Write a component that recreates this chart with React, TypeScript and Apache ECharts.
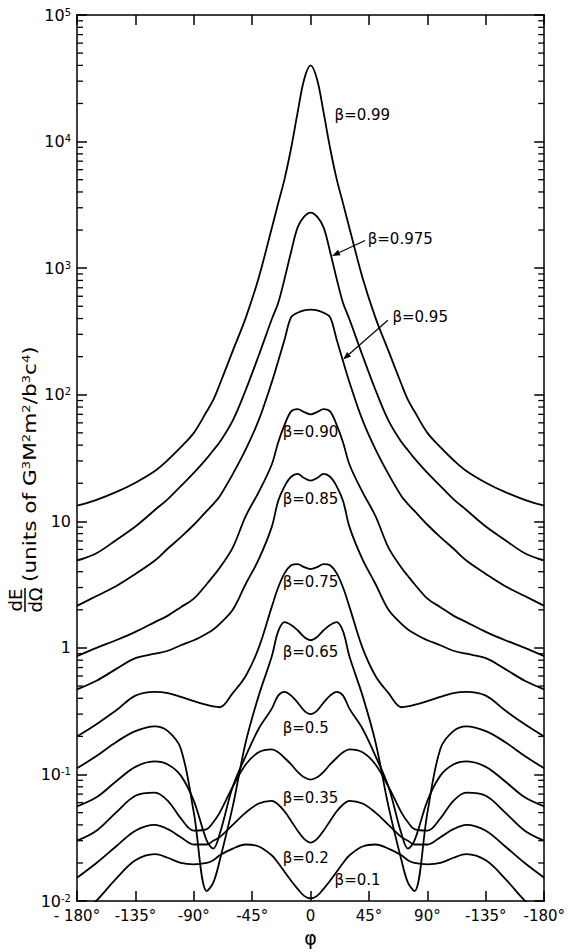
import { useEffect, useRef } from 'react';
import * as echarts from 'echarts';

const FONT = '"DejaVu Sans", sans-serif';

// azimuth angle phi (degrees)
const phi = [-180, -165, -150, -135, -120, -110, -100, -90, -80, -75, -70, -60, -50, -40, -30, -25, -20, -15, -10, -5, 0, 5, 10, 15, 20, 25, 30, 40, 50, 60, 70, 75, 80, 90, 100, 110, 120, 135, 150, 165, 180];

// dE/dOmega for each beta
const beta099 = [13.3, 14.8, 17, 20.2, 25, 30.5, 38.5, 50, 74, 91, 121, 222, 405, 840, 2060, 3250, 5100, 8900, 17000, 31000, 40000, 31000, 17000, 8900, 5100, 3250, 2060, 840, 405, 222, 121, 91, 74, 50, 38.5, 30.5, 25, 20.2, 17, 14.8, 13.3];
const beta0975 = [4.9, 5.6, 7.1, 9.1, 12.3, 15, 19, 24.1, 31.4, 36.4, 42.3, 62.5, 109, 204, 393, 530, 830, 1350, 2100, 2550, 2750, 2550, 2100, 1350, 830, 530, 393, 204, 109, 62.5, 42.3, 36.4, 31.4, 24.1, 19, 15, 12.3, 9.1, 7.1, 5.6, 4.9];
const beta095 = [2.15, 2.57, 3.07, 3.84, 4.9, 6.1, 7.5, 9.4, 12.1, 13.7, 15.8, 23.6, 37, 63, 125, 184, 275, 410, 445, 465, 470, 465, 445, 410, 275, 184, 125, 63, 37, 23.6, 15.8, 13.7, 12.1, 9.4, 7.5, 6.1, 4.9, 3.84, 3.07, 2.57, 2.15];
const beta090 = [0.86, 1.0, 1.15, 1.34, 1.6, 1.8, 2.1, 2.45, 3.2, 3.7, 4.3, 6.2, 11, 17, 28, 42, 58, 74, 77, 73, 70, 73, 77, 74, 58, 42, 28, 17, 11, 6.2, 4.3, 3.7, 3.2, 2.45, 2.1, 1.8, 1.6, 1.34, 1.15, 1.0, 0.86];
const beta085 = [0.47, 0.55, 0.68, 0.83, 0.9, 0.95, 1.05, 1.15, 1.3, 1.4, 1.55, 2.0, 3.2, 5, 9, 14.5, 19, 22.5, 23.7, 22, 21, 22, 23.7, 22.5, 19, 14.5, 9, 5, 3.2, 2.0, 1.55, 1.4, 1.3, 1.15, 1.05, 0.95, 0.9, 0.83, 0.68, 0.55, 0.47];
const beta075 = [0.2, 0.25, 0.32, 0.42, 0.45, 0.44, 0.41, 0.38, 0.355, 0.345, 0.34, 0.44, 0.6, 1.0, 2.1, 3.0, 3.9, 4.5, 4.6, 4.35, 4.2, 4.35, 4.6, 4.5, 3.9, 3.0, 2.1, 1.0, 0.6, 0.44, 0.34, 0.345, 0.355, 0.38, 0.41, 0.44, 0.45, 0.42, 0.32, 0.25, 0.2];
const beta065 = [0.112, 0.14, 0.18, 0.22, 0.24, 0.22, 0.16, 0.05, 0.012, 0.014, 0.021, 0.056, 0.18, 0.42, 0.85, 1.35, 1.6, 1.52, 1.38, 1.22, 1.15, 1.22, 1.38, 1.52, 1.6, 1.35, 0.85, 0.42, 0.18, 0.056, 0.021, 0.014, 0.012, 0.05, 0.16, 0.22, 0.24, 0.22, 0.18, 0.14, 0.112];
const beta05 = [0.056, 0.066, 0.088, 0.115, 0.127, 0.12, 0.098, 0.062, 0.03, 0.026, 0.034, 0.08, 0.14, 0.23, 0.33, 0.42, 0.45, 0.42, 0.37, 0.32, 0.30, 0.32, 0.37, 0.42, 0.45, 0.42, 0.33, 0.23, 0.14, 0.08, 0.034, 0.026, 0.03, 0.062, 0.098, 0.12, 0.127, 0.115, 0.088, 0.066, 0.056];
const beta035 = [0.03, 0.036, 0.05, 0.068, 0.072, 0.062, 0.045, 0.036, 0.037, 0.042, 0.05, 0.08, 0.12, 0.15, 0.158, 0.15, 0.135, 0.12, 0.105, 0.095, 0.091, 0.095, 0.105, 0.12, 0.135, 0.15, 0.158, 0.15, 0.12, 0.08, 0.05, 0.042, 0.037, 0.036, 0.045, 0.062, 0.072, 0.068, 0.05, 0.036, 0.03];
const beta02 = [0.0153, 0.02, 0.027, 0.036, 0.04, 0.037, 0.032, 0.028, 0.028, 0.03, 0.032, 0.04, 0.05, 0.059, 0.062, 0.058, 0.051, 0.043, 0.036, 0.031, 0.029, 0.031, 0.036, 0.043, 0.051, 0.058, 0.062, 0.059, 0.05, 0.04, 0.032, 0.03, 0.028, 0.028, 0.032, 0.037, 0.04, 0.036, 0.027, 0.02, 0.0153];
const beta01 = [0.0075, 0.0101, 0.015, 0.021, 0.0235, 0.022, 0.02, 0.0195, 0.02, 0.021, 0.023, 0.026, 0.028, 0.027, 0.023, 0.02, 0.017, 0.0145, 0.0125, 0.011, 0.0105, 0.011, 0.0125, 0.0145, 0.017, 0.02, 0.023, 0.027, 0.028, 0.026, 0.023, 0.021, 0.02, 0.0195, 0.02, 0.022, 0.0235, 0.021, 0.015, 0.0101, 0.0075];

const curveNames = ['β=0.99', 'β=0.975', 'β=0.95', 'β=0.90', 'β=0.85', 'β=0.75', 'β=0.65', 'β=0.5', 'β=0.35', 'β=0.2', 'β=0.1'];
const curveValues = [beta099, beta0975, beta095, beta090, beta085, beta075, beta065, beta05, beta035, beta02, beta01];

// tick labels
const xTickText = ['- 180°', '-135°', '-90°', '-45°', '0', '45°', '90°', '-135°', '-180°'];
const yTickValues = [0.01, 0.1, 1, 10, 100, 1000, 10000, 100000];
const yTickText = ['10{s|-2}', '10{s|-1}', '1', '10', '10{s|2}', '10{s|3}', '10{s|4}', '10{s|5}'];
const minorDecades = [0.01, 0.1, 1, 10, 100, 1000, 10000];
const minorMultipliers = [2, 3, 4, 5, 6, 7, 8, 9];

// curve annotations (anchor = left-middle of text, in data coords)
const labelTexts = ['β=0.99', 'β=0.975', 'β=0.95', 'β=0.90', 'β=0.85', 'β=0.75', 'β=0.65', 'β=0.5', 'β=0.35', 'β=0.2', 'β=0.1'];
const labelPhi = [18.5, 44, 63, -21.5, -21.5, -21.5, -21.5, -21.5, -21.5, -21.5, 18.5];
const labelVal = [16300, 1690, 410, 50.8, 15.1, 3.34, 0.937, 0.232, 0.065, 0.0219, 0.0147];
// leader arrows
const arrowFromPhi = [42, 59.5];
const arrowFromVal = [1656, 388];
const arrowToPhi = [16.5, 25];
const arrowToVal = [1250, 190];

export default function App() {
  const ref = useRef<HTMLDivElement>(null);
  useEffect(() => {
    const chart = echarts.init(ref.current!, null, { renderer: 'svg' });
    const axisLineStyle = { color: '#000', width: 1.5 };
    const lineSeries = curveValues.map((vals, k) => ({
      type: 'line',
      name: curveNames[k],
      xAxisIndex: 0,
      yAxisIndex: 0,
      data: phi.map((p, i) => [p, vals[i]]),
      showSymbol: false,
      symbol: 'none',
      smooth: 0.35,
      clip: true,
      silent: true,
      lineStyle: { color: '#000', width: 1.8 },
    }));
    const minorData: number[][] = [];
    minorDecades.forEach((d) => minorMultipliers.forEach((m) => minorData.push([-180, m * d])));
    const option: any = {
      animation: false,
      backgroundColor: '#fff',
      grid: { left: 77, right: 23, top: 15, bottom: 49, containLabel: false },
      xAxis: [
        {
          type: 'value', min: -180, max: 180, interval: 45, position: 'bottom',
          axisLine: { show: true, onZero: false, lineStyle: axisLineStyle },
          axisTick: { show: true, inside: true, length: 10, lineStyle: axisLineStyle },
          axisLabel: {
            color: '#000', fontSize: 15, fontFamily: FONT, margin: 7,
            formatter: (v: number) => xTickText[Math.round((v + 180) / 45)] ?? '',
          },
          splitLine: { show: false },
          name: 'φ', nameLocation: 'middle', nameGap: 26,
          nameTextStyle: { color: '#000', fontSize: 19, fontFamily: FONT },
        },
        {
          type: 'value', min: -180, max: 180, interval: 45, position: 'top',
          axisLine: { show: true, onZero: false, lineStyle: axisLineStyle },
          axisTick: { show: true, inside: true, length: 10, lineStyle: axisLineStyle },
          axisLabel: { show: false },
          splitLine: { show: false },
        },
      ],
      yAxis: [
        {
          type: 'log', logBase: 10, min: 0.01, max: 100000, splitNumber: 7, position: 'left',
          axisLine: { show: true, onZero: false, lineStyle: axisLineStyle },
          axisTick: { show: true, inside: true, length: 10, lineStyle: axisLineStyle },
          axisLabel: {
            color: '#000', fontSize: 16, fontFamily: FONT, margin: 6,
            formatter: (v: number) => {
              const i = yTickValues.findIndex((t) => Math.abs(Math.log10(t) - Math.log10(v)) < 1e-6);
              return i >= 0 ? yTickText[i] : '';
            },
            rich: { s: { fontSize: 10, fontFamily: FONT, color: '#000', verticalAlign: 'top' } },
          },
          splitLine: { show: false },
        },
        {
          type: 'log', logBase: 10, min: 0.01, max: 100000, splitNumber: 7, position: 'right',
          axisLine: { show: true, onZero: false, lineStyle: axisLineStyle },
          axisTick: { show: true, inside: true, length: 10, lineStyle: axisLineStyle },
          axisLabel: { show: false },
          splitLine: { show: false },
        },
      ],
      series: [
        ...lineSeries,
        {
          type: 'custom',
          xAxisIndex: 0,
          yAxisIndex: 0,
          silent: true,
          data: minorData,
          encode: { x: 0, y: 1 },
          renderItem: (params: any, api: any) => {
            const p = api.coord([-180, api.value(1)]);
            const cs = params.coordSys;
            const l = cs.x;
            const r = cs.x + cs.width;
            const st = { stroke: '#000', lineWidth: 1.3 };
            return {
              type: 'group',
              children: [
                { type: 'line', shape: { x1: l, y1: p[1], x2: l + 6, y2: p[1] }, style: st },
                { type: 'line', shape: { x1: r - 6, y1: p[1], x2: r, y2: p[1] }, style: st },
              ],
            };
          },
        },
      ],
    };
    chart.setOption(option);

    const px = (p: number, v: number) => chart.convertToPixel({ xAxisIndex: 0, yAxisIndex: 0 }, [p, v]) as number[];
    const graphics: any[] = [];
    labelTexts.forEach((t, i) => {
      const pt = px(labelPhi[i], labelVal[i]);
      graphics.push({
        type: 'text', x: pt[0], y: pt[1], silent: true,
        style: { text: t, fill: '#000', fontSize: 15, fontFamily: FONT, align: 'left', verticalAlign: 'middle' },
      });
    });
    arrowFromPhi.forEach((_, i) => {
      const a = px(arrowFromPhi[i], arrowFromVal[i]);
      const b = px(arrowToPhi[i], arrowToVal[i]);
      const dx = b[0] - a[0];
      const dy = b[1] - a[1];
      const len = Math.hypot(dx, dy);
      const ux = dx / len;
      const uy = dy / len;
      const hl = 8;
      const hw = 3;
      const bx = b[0] - ux * hl;
      const by = b[1] - uy * hl;
      graphics.push({ type: 'line', silent: true, shape: { x1: a[0], y1: a[1], x2: bx, y2: by }, style: { stroke: '#000', lineWidth: 1.2 } });
      graphics.push({
        type: 'polygon', silent: true,
        shape: { points: [[b[0], b[1]], [bx - uy * hw, by + ux * hw], [bx + uy * hw, by - ux * hw]] },
        style: { fill: '#000' },
      });
    });
    // y axis title (rotated)
    graphics.push({
      type: 'group', x: 25, y: 612, rotation: Math.PI / 2, silent: true,
      children: [
        { type: 'text', x: 12, y: -1, style: { text: 'dE', fill: '#000', fontSize: 18, fontFamily: FONT, align: 'center', verticalAlign: 'bottom' } },
        { type: 'line', shape: { x1: 0, y1: 0, x2: 24, y2: 0 }, style: { stroke: '#000', lineWidth: 1.5 } },
        { type: 'text', x: 12, y: 1, style: { text: 'dΩ', fill: '#000', fontSize: 18, fontFamily: FONT, align: 'center', verticalAlign: 'top' } },
        {
          type: 'text', x: 30, y: 5, scaleX: 1.2,
          style: {
            text: '(units of G{s|3}M{s|2}m{s|2}/b{s|3}c{s|4})',
            fill: '#000', fontSize: 18, fontFamily: FONT, align: 'left', verticalAlign: 'middle',
            rich: { s: { fontSize: 11, fontFamily: FONT, fill: '#000', verticalAlign: 'top' } },
          },
        },
      ],
    });
    chart.setOption({ graphic: graphics });
    return () => chart.dispose();
  }, []);
  return <div ref={ref} style={{ position: 'fixed', left: 0, top: 0, width: 568, height: 952, background: '#fff' }} />;
}
